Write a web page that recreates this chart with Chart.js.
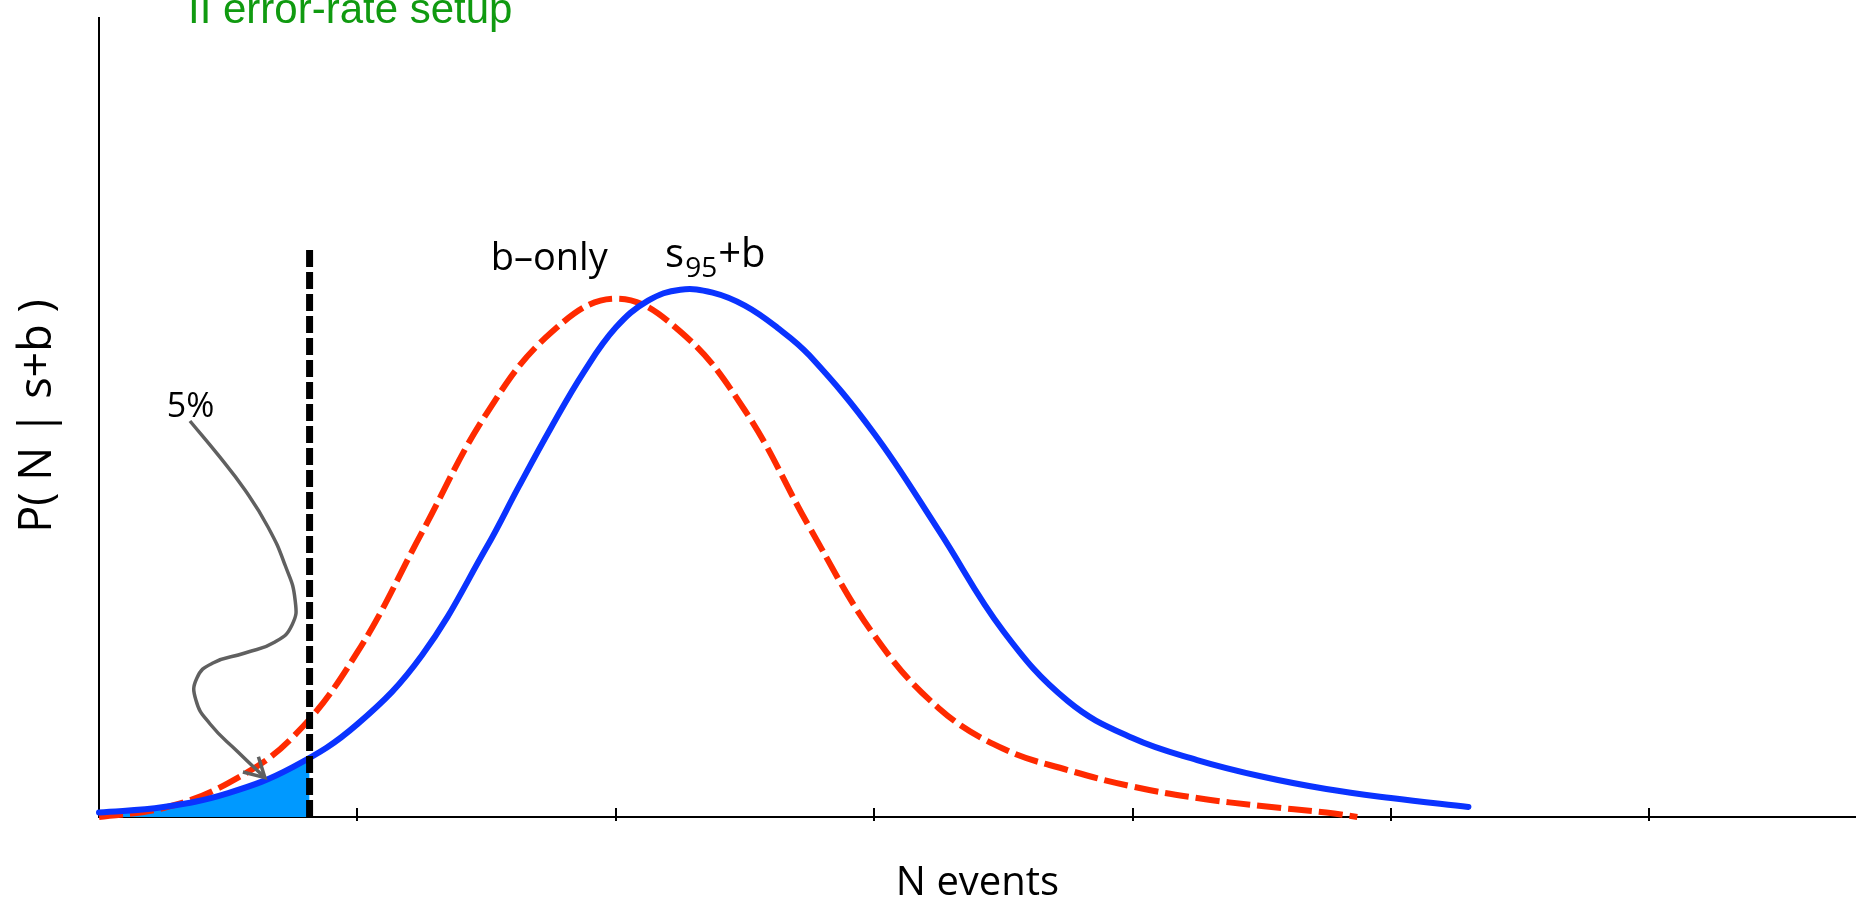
<!DOCTYPE html>
<html>
<head>
<meta charset="utf-8">
<title>P(N | s+b)</title>
<script src="https://cdn.jsdelivr.net/npm/chart.js@4.4.1/dist/chart.umd.min.js"></script>
<style>
  html, body { margin: 0; padding: 0; background: #fff; }
</style>
</head>
<body>
<canvas id="chart" width="1856" height="897"></canvas>
<script>
// N axis is in tick units, P axis in arbitrary units (the original has no numbers)
const sbEvents = [0, 0.25, 0.5, 0.75, 1.0, 1.25, 1.5, 1.625, 1.75, 1.875, 2.0, 2.125, 2.25, 2.375, 2.5, 2.625, 2.75, 3.0, 3.25, 3.5, 3.75, 4.0, 4.25, 4.5, 4.75, 5.0, 5.3];
const sbProb = [0.045, 0.10, 0.24, 0.50, 0.93, 1.62, 2.70, 3.31, 3.90, 4.45, 4.90, 5.17, 5.28, 5.25, 5.12, 4.90, 4.62, 3.84, 2.87, 1.86, 1.16, 0.79, 0.57, 0.405, 0.28, 0.19, 0.10];

const bEvents = [0, 0.25, 0.5, 0.75, 1.0, 1.25, 1.5, 1.75, 2.0, 2.25, 2.5, 2.75, 3.0, 3.25, 3.5, 3.75, 4.0, 4.25, 4.5, 4.75, 4.87];
const bProb = [0, 0.09, 0.34, 0.80, 1.65, 2.85, 4.04, 4.85, 5.19, 4.86, 4.07, 2.90, 1.82, 1.09, 0.683, 0.47, 0.305, 0.19, 0.11, 0.045, 0];

// cut for the 5% tail
const cutEvent = 0.815;
const cutProb = 0.58;
const cutTop = 5.69;

const xTicks = [1, 2, 3, 4, 5, 6];

// the wiggly "5%" pointer
const arrowX = [0.352, 0.461, 0.565, 0.654, 0.720, 0.759, 0.747, 0.681, 0.565, 0.441, 0.379, 0.375, 0.430, 0.538, 0.639];
const arrowY = [3.965, 3.625, 3.274, 2.904, 2.523, 2.173, 1.923, 1.752, 1.642, 1.542, 1.392, 1.171, 0.931, 0.651, 0.401];
const headX = [0.617, 0.642, 0.557];
const headY = [0.603, 0.394, 0.45];

function toPoints(xs, ys) {
    return xs.map((v, i) => ({ x: v, y: ys[i] }));
}

const sbPoints = toPoints(sbEvents, sbProb);
const tailPoints = sbPoints.filter(p => p.x < cutEvent).concat([{ x: cutEvent, y: cutProb }]);

const labelFont = '"Open Sans", sans-serif';

// Function to draw ticks and all the text
const extras = {
    id: 'extras',
    afterDraw(chart) {
        const { ctx, chartArea } = chart;
        const x = chart.scales.x;
        const y = chart.scales.y;
        ctx.save();

        // ticks cross the N axis
        ctx.strokeStyle = '#000';
        ctx.lineWidth = 2;
        xTicks.forEach(t => {
            const px = Math.round(x.getPixelForValue(t));
            ctx.beginPath();
            ctx.moveTo(px, chartArea.bottom - 9);
            ctx.lineTo(px, chartArea.bottom + 4);
            ctx.stroke();
        });

        ctx.fillStyle = '#000';
        ctx.textAlign = 'left';
        ctx.textBaseline = 'alphabetic';

        ctx.font = '38px ' + labelFont;
        ctx.fillText('b\u2013only', x.getPixelForValue(1.516), y.getPixelForValue(5.476));

        // s95+b with subscript
        let sx = x.getPixelForValue(2.191);
        const sy = y.getPixelForValue(5.506);
        ctx.font = '40px ' + labelFont;
        ctx.fillText('s', sx, sy);
        sx += ctx.measureText('s').width + 1;
        ctx.font = '28px ' + labelFont;
        ctx.fillText('95', sx, sy + 10);
        sx += ctx.measureText('95').width + 1;
        ctx.font = '40px ' + labelFont;
        ctx.fillText('+b', sx, sy);

        ctx.font = '34px ' + labelFont;
        ctx.fillText('5%', x.getPixelForValue(0.262), y.getPixelForValue(4.01));

        // axis titles
        ctx.font = '40px ' + labelFont;
        ctx.textAlign = 'center';
        ctx.fillText('N events', (chartArea.left + chartArea.right) / 2, 895);

        ctx.save();
        ctx.translate(51, 416);
        ctx.rotate(-Math.PI / 2);
        ctx.font = '45px ' + labelFont;
        ctx.fillText('P( N | s+b )', 0, 0);
        ctx.restore();

        // green heading, clipped at the top like the original
        ctx.textAlign = 'left';
        ctx.fillStyle = '#109a10';
        ctx.font = '42px "Liberation Sans", Arial, sans-serif';
        ctx.fillText('II error-rate setup', 188, 23);

        ctx.restore();
    }
};

const ctx = document.getElementById('chart').getContext('2d');
const chart = new Chart(ctx, {
    type: 'line',
    data: {
        datasets: [
            {
                label: 'cut',
                data: [{ x: cutEvent, y: 0 }, { x: cutEvent, y: cutTop }],
                borderColor: '#000',
                borderWidth: 7,
                borderDash: [17, 5],
                pointRadius: 0,
                clip: false
            },
            {
                label: 'arrow',
                data: toPoints(arrowX, arrowY),
                borderColor: '#606060',
                borderWidth: 3.5,
                tension: 0.5,
                pointRadius: 0,
                clip: false
            },
            {
                label: 'arrow head',
                data: toPoints(headX, headY),
                borderColor: '#606060',
                borderWidth: 3.5,
                pointRadius: 0,
                clip: false
            },
            {
                label: 's95+b',
                data: sbPoints,
                borderColor: '#0a33ff',
                borderWidth: 6,
                borderCapStyle: 'round',
                tension: 0.4,
                pointRadius: 0,
                clip: false
            },
            {
                label: 'b-only',
                data: toPoints(bEvents, bProb),
                borderColor: '#ff2a00',
                borderWidth: 6,
                borderDash: [24, 7],
                tension: 0.4,
                pointRadius: 0,
                clip: false
            },
            {
                label: 'tail',
                data: tailPoints,
                borderWidth: 0,
                borderColor: 'rgba(0,0,0,0)',
                backgroundColor: '#0099ff',
                fill: 'origin',
                tension: 0.4,
                pointRadius: 0
            }
        ]
    },
    options: {
        responsive: false,
        animation: false,
        layout: {
            padding: { left: 99, top: 18, right: 0, bottom: 80 }
        },
        plugins: {
            legend: { display: false },
            tooltip: { enabled: false },
            title: { display: false }
        },
        scales: {
            x: {
                type: 'linear',
                min: 0,
                max: 6.8,
                grid: { display: false, drawTicks: false },
                ticks: { display: false },
                border: { display: true, color: '#000', width: 2 }
            },
            y: {
                type: 'linear',
                min: 0,
                max: 8,
                grid: { display: false, drawTicks: false },
                ticks: { display: false },
                border: { display: true, color: '#000', width: 2 }
            }
        }
    },
    plugins: [extras]
});
</script>
</body>
</html>
